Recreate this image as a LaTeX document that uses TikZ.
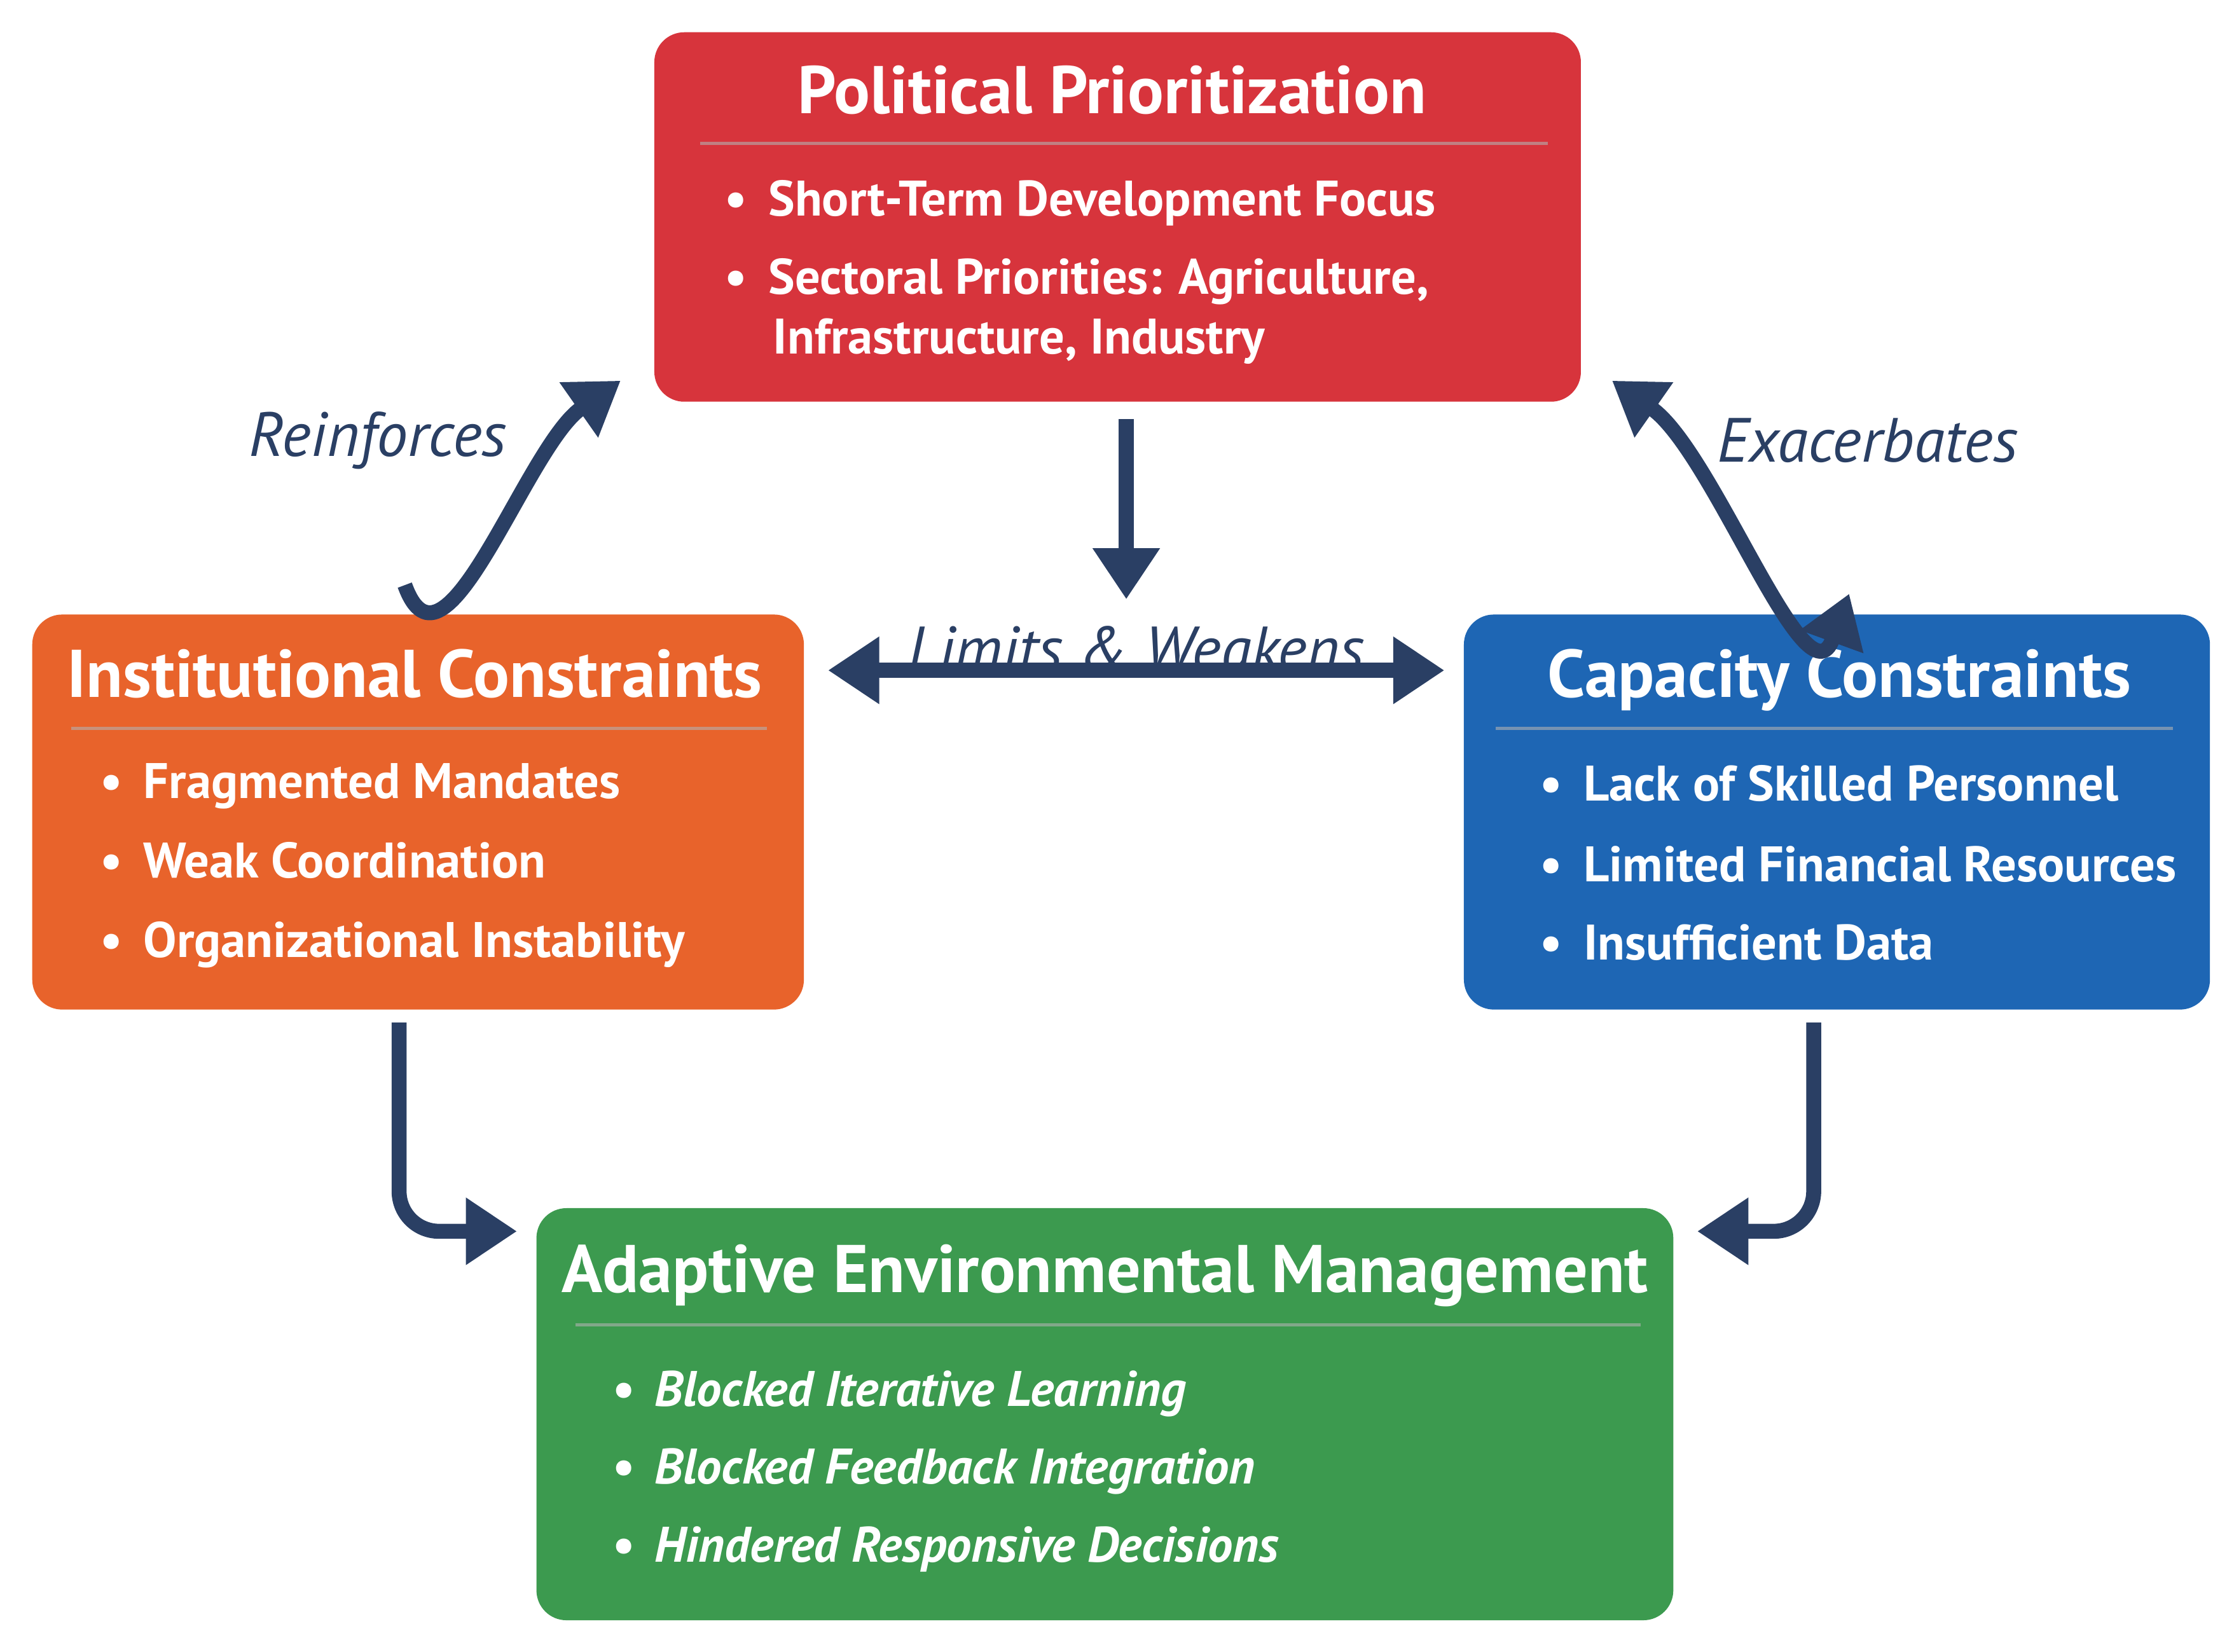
\documentclass[tikz,border=0pt]{standalone}
\usepackage{fontspec}
\setmainfont{PT Sans}
\usetikzlibrary{arrows.meta,positioning}
\definecolor{cred}{HTML}{D7343C}
\definecolor{corange}{HTML}{E8632B}
\definecolor{cblue}{HTML}{1E66B4}
\definecolor{cgreen}{HTML}{3C9A4F}
\definecolor{navy}{HTML}{2A3F64}
\tikzset{
 box/.style={rounded corners=6pt,anchor=north west,inner sep=0pt,draw=none},
 ttl/.style={text=white,font=\bfseries\fontsize{13.5}{15}\selectfont,anchor=base},
 itm/.style={text=white,font=\bfseries\fontsize{10}{12}\selectfont,anchor=base west,align=left},
 arr/.style={navy,line width=3pt,-{Triangle[length=0.36cm,width=0.45cm]}},
 darr/.style={navy,line width=3pt,{Triangle[length=0.36cm,width=0.45cm]}-{Triangle[length=0.36cm,width=0.45cm]}},
 lbl/.style={navy,font=\itshape\fontsize{12.5}{14}\selectfont},
 sep/.style={white!70!black,opacity=0.6,line width=0.6pt}
}
\begin{document}
\begin{tikzpicture}[x=0.01cm,y=-0.01cm]
\useasboundingbox[fill=white] (0,0) rectangle (1568,1163);
% boxes
\node[box,fill=cred,minimum width=6.52cm,minimum height=2.6cm] (pol) at (460,22) {};
\node[box,fill=corange,minimum width=5.43cm,minimum height=2.78cm] (ins) at (22,432) {};
\node[box,fill=cblue,minimum width=5.25cm,minimum height=2.78cm] (cap) at (1030,432) {};
\node[box,fill=cgreen,minimum width=8.0cm,minimum height=2.9cm] (ada) at (377,850) {};
% political
\node[ttl] (polt) at (783,80) {Political Prioritization};
\draw[sep] (493,101) -- (1090,101);
\node[itm] (p1) at (498,152) {•\, Short-Term Development Focus};
\node[itm] (p2) at (498,207) {•\, Sectoral Priorities: Agriculture,};
\node[itm] (p3) at (532,249) {Infrastructure, Industry};
% institutional
\node[ttl] (inst) at (292,491) {Institutional Constraints};
\draw[sep] (50,513) -- (540,513);
\node[itm] (i1) at (58,562) {•\, Fragmented Mandates};
\node[itm] (i2) at (58,618) {•\, Weak Coordination};
\node[itm] (i3) at (58,674) {•\, Organizational Instability};
% capacity
\node[ttl] (capt) at (1295,491) {Capacity Constraints};
\draw[sep] (1053,513) -- (1530,513);
\node[itm] (c1) at (1072,564) {•\, Lack of Skilled Personnel};
\node[itm] (c2) at (1072,621) {•\, Limited Financial Resources};
\node[itm] (c3) at (1072,676) {•\, Insufficient Data};
% adaptive
\node[ttl] (adat) at (778,910) {Adaptive Environmental Management};
\draw[sep] (405,933) -- (1155,933);
\node[itm,font=\bfseries\itshape\fontsize{10}{12}\selectfont] (a1) at (418,990) {•\, Blocked Iterative Learning};
\node[itm,font=\bfseries\itshape\fontsize{10}{12}\selectfont] (a2) at (418,1045) {•\, Blocked Feedback Integration};
\node[itm,font=\bfseries\itshape\fontsize{10}{12}\selectfont] (a3) at (418,1100) {•\, Hindered Responsive Decisions};
% connector coordinates
\coordinate (r0) at (285,412); \coordinate (r1) at (437,268);
\coordinate (e0) at (1135,268); \coordinate (e1) at (1302,418);
\coordinate (d0) at (793,295); \coordinate (d1) at (793,422);
\coordinate (l0) at (583,472); \coordinate (l1) at (1017,472);
\coordinate (ia) at (281,720); \coordinate (ib) at (281,867); \coordinate (ic) at (364,867);
\coordinate (ca) at (1277,720); \coordinate (cb) at (1277,867); \coordinate (cc) at (1195,867);
\draw[arr] (r0) to[out=-70,in=-145] (r1);
\draw[darr] (e0) to[out=-35,in=-110] (e1);
\draw[arr] (d0) -- (d1);
\draw[darr] (l0) -- (l1);
\draw[arr,rounded corners=8pt] (ia) -- (ib) -- (ic);
\draw[arr,rounded corners=8pt] (ca) -- (cb) -- (cc);
\node[lbl] (lr) at (266,310) {Reinforces};
\node[lbl] (le) at (1315,310) {Exacerbates};
\node[lbl] (ll) at (800,457) {Limits \& Weakens};
\end{tikzpicture}
\end{document}
